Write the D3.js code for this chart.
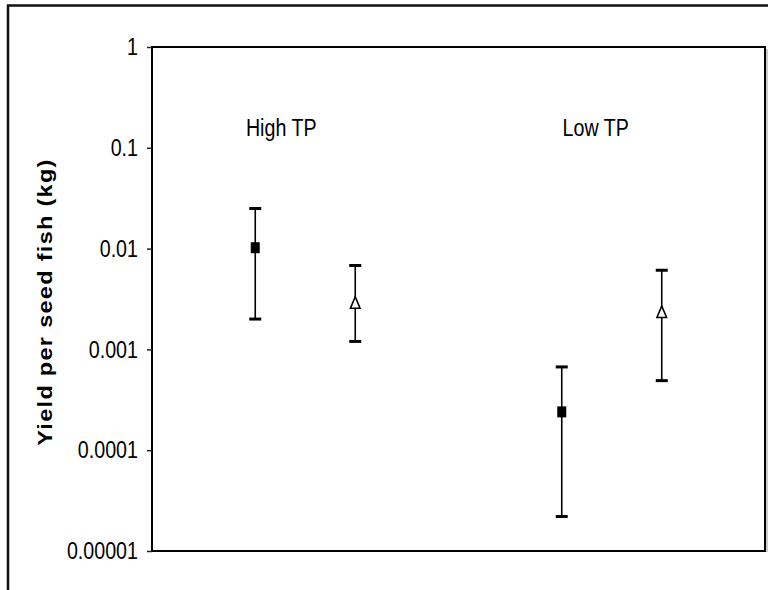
<!DOCTYPE html>
<html>
<head>
<meta charset="utf-8">
<script src="https://cdn.jsdelivr.net/npm/d3@7"></script>
<style>
  body { margin: 0; background: #fff; }
  svg { display: block; }
</style>
</head>
<body>
<script>
/*data*/
const groups = ['High TP', 'Low TP'];
const series = ['square', 'triangle'];
const means = [[0.0102, 0.0029], [0.00024, 0.00235]];
const upper = [[0.025, 0.0068], [0.00067, 0.0061]];
const lower = [[0.002, 0.0012], [0.000022, 0.00049]];
const tickValues = [1, 0.1, 0.01, 0.001, 0.0001, 0.00001];
const tickLabels = ['1', '0.1', '0.01', '0.001', '0.0001', '0.00001'];

/*canvas size*/
const width = 768;
const height = 590;
const plot = { left: 152, top: 47, right: 765, bottom: 551 };
const font = '"Liberation Sans", Arial, sans-serif';
/*the picture is squeezed sideways, so text is too*/
const squeeze = 0.82;

const svg = d3.select('body').append('svg')
    .attr('width', width)
    .attr('height', height);

/*outer chart frame (cropped at right and bottom)*/
svg.append('path')
    .attr('d', `M8,${height} V5.5 H${width}`)
    .attr('fill', 'none').attr('stroke', '#111').attr('stroke-width', 2.5);

/*scales*/
const xScale = d3.scaleBand().domain(groups).range([plot.left, plot.right]);
const offset = d3.scalePoint().domain(series).range([-50, 50]);
const yScale = d3.scaleLog().domain([0.00001, 1]).range([plot.bottom, plot.top]);

/*plot area box with a thin shadow*/
svg.append('line')
    .attr('x1', plot.right + 2).attr('x2', plot.right + 2)
    .attr('y1', plot.top + 2).attr('y2', plot.bottom + 1)
    .attr('stroke', '#999').attr('stroke-width', 1);
svg.append('rect')
    .attr('x', plot.left).attr('y', plot.top)
    .attr('width', plot.right - plot.left).attr('height', plot.bottom - plot.top)
    .attr('fill', 'none').attr('stroke', '#000').attr('stroke-width', 2);

/*y axis*/
const yAxis = svg.append('g')
    .attr('transform', `translate(${plot.left},0)`)
    .call(d3.axisLeft(yScale)
        .tickValues(tickValues)
        .tickFormat((d, i) => tickLabels[i])
        .tickSize(5));
yAxis.select('.domain').remove();
yAxis.selectAll('.tick line').attr('stroke', '#222').attr('stroke-width', 1.5);
yAxis.selectAll('.tick text')
    .attr('x', 0)
    .attr('transform', `translate(-14,0) scale(${squeeze},1)`)
    .attr('fill', '#000')
    .style('font-family', font)
    .style('font-size', '24px');

/*y title*/
svg.append('text')
    .attr('transform', `translate(52,${(plot.top + plot.bottom) / 2 + 3}) scale(0.86,1) rotate(-90)`)
    .attr('text-anchor', 'middle')
    .style('font-family', font)
    .style('font-size', '23.5px')
    .style('font-weight', 'bold')
    .style('letter-spacing', '1.3px')
    .text('Yield per seed fish (kg)');

/*group labels, nudged to where they sit in the picture*/
const labelShift = [-24, -16];
svg.append('g').selectAll('text').data(groups).enter().append('text')
    .attr('transform', (d, i) => `translate(${xScale(d) + xScale.bandwidth() / 2 + labelShift[i]},136) scale(${squeeze},1)`)
    .attr('text-anchor', 'middle')
    .style('font-family', font)
    .style('font-size', '24px')
    .text(d => d);

/*flatten into points*/
const points = [];
groups.forEach((g, i) => series.forEach((s, j) => {
    points.push({ group: g, series: s, mean: means[i][j], hi: upper[i][j], lo: lower[i][j] });
}));
const px = d => xScale(d.group) + xScale.bandwidth() / 2 + offset(d.series);

/*error bars*/
const bars = svg.append('g').selectAll('g').data(points).enter().append('g');
bars.append('line')
    .attr('x1', px).attr('x2', px)
    .attr('y1', d => yScale(d.hi)).attr('y2', d => yScale(d.lo))
    .attr('stroke', '#000').attr('stroke-width', 1.6);
bars.selectAll('.cap').data(d => [d.hi, d.lo].map(v => ({ x: px(d), v: v }))).enter()
    .append('line').attr('class', 'cap')
    .attr('x1', c => c.x - 6).attr('x2', c => c.x + 6)
    .attr('y1', c => yScale(c.v)).attr('y2', c => yScale(c.v))
    .attr('stroke', '#000').attr('stroke-width', 3);

/*markers*/
svg.append('g').selectAll('rect').data(points.filter(d => d.series === 'square')).enter()
    .append('rect')
    .attr('x', d => px(d) - 4.5).attr('y', d => yScale(d.mean) - 5.5)
    .attr('width', 9).attr('height', 11)
    .attr('fill', '#000');
svg.append('g').selectAll('path').data(points.filter(d => d.series === 'triangle')).enter()
    .append('path')
    .attr('d', d => {
        const x = px(d), y = yScale(d.mean);
        return `M${x},${y - 6} L${x + 4.8},${y + 5.5} L${x - 4.8},${y + 5.5} Z`;
    })
    .attr('fill', '#fff').attr('stroke', '#000').attr('stroke-width', 1.6);
</script>
</body>
</html>
